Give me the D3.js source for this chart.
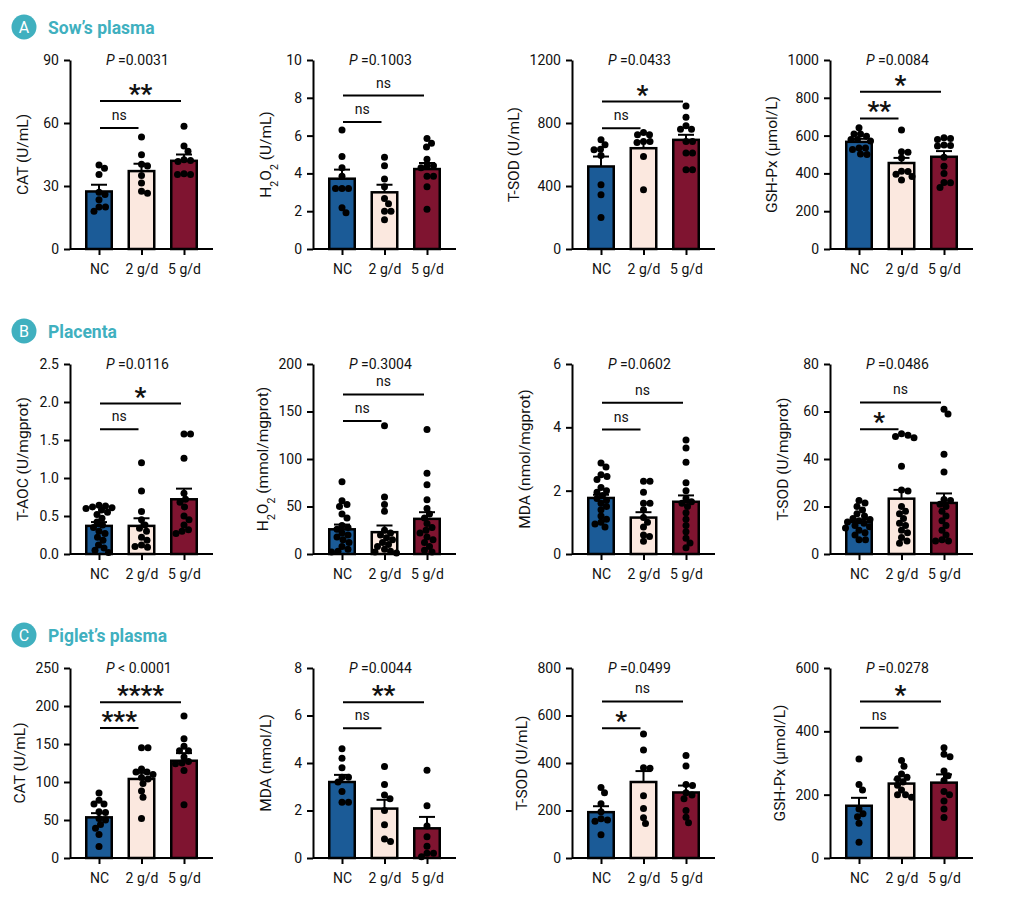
<!DOCTYPE html>
<html>
<head>
<meta charset="utf-8">
<script src="https://cdn.jsdelivr.net/npm/d3@7"></script>
<style>
  body { margin: 0; background: #fff; }
  text { font-family: Roboto, "Noto Sans", sans-serif; fill: #111; }
</style>
</head>
<body>
<svg id="fig" width="1013" height="904"></svg>
<script>
// groups and section headers
var groups = ["NC", "2 g/d", "5 g/d"];
var sections = [["A", "Sow’s plasma"], ["B", "Placenta"], ["C", "Piglet’s plasma"]];

// one entry per panel, row by row ("_" marks a one-char subscript)
var yLabels = ["CAT (U/mL)", "H_2O_2 (U/mL)", "T-SOD (U/mL)", "GSH-Px (µmol/L)",
               "T-AOC (U/mgprot)", "H_2O_2 (mmol/mgprot)", "MDA (nmol/mgprot)", "T-SOD (U/mgprot)",
               "CAT (U/mL)", "MDA (nmol/L)", "T-SOD (U/mL)", "GSH-Px (µmol/L)"];
var yTicks = [[0, 30, 60, 90], [0, 2, 4, 6, 8, 10], [0, 400, 800, 1200], [0, 200, 400, 600, 800, 1000],
              [0, 0.5, 1.0, 1.5, 2.0, 2.5], [0, 50, 100, 150, 200], [0, 2, 4, 6], [0, 20, 40, 60, 80],
              [0, 50, 100, 150, 200, 250], [0, 2, 4, 6, 8], [0, 200, 400, 600, 800], [0, 200, 400, 600]];
var pTexts = ["=0.0031", "=0.1003", "=0.0433", "=0.0084",
              "=0.0116", "=0.3004", "=0.0602", "=0.0486",
              " < 0.0001", "=0.0044", "=0.0499", "=0.0278"];

// bar heights (mean) and top of the error bar (mean + SEM)
var means = [[27.4, 37.1, 42.0], [3.72, 3.0, 4.23], [524, 640, 693], [567, 455, 488],
             [0.37, 0.37, 0.72], [26, 23, 37], [1.77, 1.15, 1.65], [13.5, 23.3, 21.5],
             [53.5, 104, 128], [3.2, 2.08, 1.25], [193, 320, 276], [165, 235, 238]];
var semTops = [[30.6, 40.6, 45.0], [4.2, 3.4, 4.55], [587, 683, 725], [583, 482, 518],
               [0.42, 0.47, 0.86], [31, 30, 44], [1.87, 1.32, 1.85], [14.5, 27, 25.5],
               [59, 112, 138], [3.5, 2.45, 1.73], [218, 366, 305], [190, 248, 264]];

// individual animals
var dots = [
  [[40, 38.5, 35.5, 27, 26, 23.5, 20, 20, 18],
   [53.3, 44.9, 40.3, 39.5, 35, 31.4, 27.5, 26.6],
   [58.4, 49, 46.6, 42.5, 42.2, 41.7, 35.8, 35.5, 35.5]],
  [[6.3, 4.9, 4.3, 3.85, 3.2, 3.2, 3.2, 2.18, 1.92],
   [4.85, 4.4, 3.7, 3.3, 2.67, 2.4, 2.0, 2.0, 1.55],
   [5.85, 5.6, 5.4, 4.75, 4.4, 4.4, 4.3, 3.85, 3.85, 3.3, 2.1]],
  [[693, 662, 630, 634, 594, 408, 345, 200],
   [725, 725, 740, 683, 683, 676, 588, 376],
   [908, 837, 782, 761, 761, 683, 683, 609, 609, 503, 503]],
  [[641, 609, 597, 609, 580, 571, 580, 535, 527, 535, 503, 500],
   [630, 515, 512, 482, 412, 410, 395, 383, 365],
   [588, 580, 584, 550, 548, 545, 485, 438, 400, 350, 352, 325]],
  [[0.64, 0.63, 0.62, 0.61, 0.60, 0.58, 0.55, 0.52, 0.47, 0.42, 0.38, 0.35, 0.30, 0.27, 0.22, 0.18, 0.12, 0.08, 0.05, 0.02],
   [1.2, 0.83, 0.56, 0.45, 0.38, 0.34, 0.3, 0.22, 0.18, 0.12, 0.1, 0.09],
   [1.58, 1.58, 1.26, 0.8, 0.72, 0.68, 0.62, 0.5, 0.45, 0.38, 0.32, 0.3, 0.27]],
  [[76, 56, 52, 50, 42, 38, 30, 28, 26, 22, 20, 18, 15, 12, 8, 5, 3, 2],
   [135, 60, 52, 45, 25, 22, 20, 17, 15, 12, 10, 8, 5, 3, 2, 1],
   [131, 85, 73, 57, 48, 42, 38, 32, 28, 25, 22, 18, 15, 12, 8, 4, 2]],
  [[2.87, 2.75, 2.5, 2.45, 2.35, 2.1, 2.0, 1.95, 1.85, 1.75, 1.7, 1.6, 1.5, 1.4, 1.2, 1.1, 1.0, 0.95, 0.85],
   [2.3, 2.3, 1.95, 1.6, 1.6, 1.4, 1.15, 1.0, 0.85, 0.6, 0.55, 0.4],
   [3.6, 3.35, 2.9, 2.25, 2.0, 1.75, 1.65, 1.6, 1.5, 1.3, 1.1, 0.9, 0.7, 0.5, 0.35, 0.2]],
  [[22.5, 21.5, 20, 18.5, 17, 16, 15, 14.5, 14, 13.5, 13, 12, 11.5, 11, 10, 9, 8, 6, 6],
   [50.6, 50, 49.5, 49, 37, 27, 26.5, 20, 18, 17, 15, 13, 12, 10, 9, 7, 5.5, 4.5],
   [61, 59, 42, 34.5, 23, 22.5, 21, 20, 18, 16, 14, 12, 10, 8, 6, 5.5, 5.5]],
  [[85.5, 76, 71, 71, 61, 60, 52, 50, 44, 39, 31, 15],
   [145, 145, 117, 113, 113, 110, 106, 104, 98, 88, 80, 52],
   [187, 157, 147, 141, 141, 133, 127, 125, 124, 115, 70]],
  [[4.6, 4.2, 3.8, 3.4, 3.4, 3.2, 2.8, 2.35, 2.35],
   [3.85, 3.1, 2.65, 2.5, 2.0, 1.4, 0.8, 0.7],
   [3.7, 2.2, 1.35, 0.9, 0.5, 0.2, 0.2, 0.05]],
  [[297, 275, 228, 195, 165, 160, 155, 98],
   [522, 455, 380, 378, 262, 208, 170, 145],
   [432, 387, 310, 305, 275, 265, 250, 200, 172, 148]],
  [[313, 232, 215, 155, 140, 130, 110, 50],
   [308, 290, 265, 255, 250, 240, 230, 215, 200, 200, 192],
   [348, 328, 320, 275, 260, 245, 210, 200, 180, 155, 128]]
];

// comparison lines: NC vs 2 g/d, NC vs 5 g/d (value where the line sits) and their labels
var bracketY = [[57.6, 70.5], [6.72, 8.12], [767, 936], [691, 832],
                [1.64, 1.98], [140, 168], [3.93, 4.78], [52.5, 63.8],
                [171, 205], [5.46, 6.56], [546, 659], [411, 494]];
var sigLabels = [["ns", "**"], ["ns", "ns"], ["ns", "*"], ["**", "*"],
                 ["ns", "*"], ["ns", "ns"], ["ns", "ns"], ["*", "ns"],
                 ["***", "****"], ["ns", "**"], ["*", "ns"], ["ns", "*"]];

var fills = ["#1b5b97", "#fbe8df", "#7f1430"];
var teal = "#40b0bf";

var colX = [70, 313, 572, 830];
var rowTop = [60, 364, 668];
var rowBot = [249, 554, 858];
var plotW = 143, barW = 25.5, dotR = 3.5, maxSpread = 16;

var svg = d3.select("#fig");
svg.append("rect").attr("width", 1013).attr("height", 904).attr("fill", "#fff");

// section headers
sections.forEach(function (s, r) {
  var cy = rowTop[r] - 33;
  svg.append("circle").attr("cx", 24).attr("cy", cy).attr("r", 12.5).attr("fill", teal);
  svg.append("text").attr("x", 24).attr("y", cy + 5.5).attr("text-anchor", "middle")
    .style("font-size", "16px").style("fill", "#fff").text(s[0]);
  svg.append("text").attr("x", 48).attr("y", cy + 6.5)
    .style("font-size", "17.5px").style("font-weight", "bold").style("fill", teal).text(s[1]);
});

// simple beeswarm: spread dots sideways, letting them overlap more when the row gets too wide
function swarm(vals, cx, y) {
  var placed = [];
  var ys = vals.map(function (v) { return y(v); }).sort(function (a, b) { return a - b; });
  ys.forEach(function (py) {
    var minD = 2 * dotR - 0.8, off = 0;
    while (minD > 0) {
      var found = false;
      for (var k = 0; k <= maxSpread * 4; k++) {
        off = k === 0 ? 0 : (k % 2 ? 1 : -1) * Math.ceil(k / 2) * 0.5;
        var ok = placed.every(function (q) {
          var dx = q[0] - (cx + off), dy = q[1] - py;
          return dx * dx + dy * dy >= minD * minD;
        });
        if (ok) { found = true; break; }
      }
      if (found) break;
      minD -= 1;
    }
    placed.push([cx + off, py]);
  });
  return placed;
}

function addLabel(sel, str) {
  var parts = str.split(/_(.)/);
  parts.forEach(function (t, j) {
    if (!t) return;
    if (j % 2) {
      sel.append("tspan").attr("baseline-shift", "sub").style("font-size", "10.5px").text(t);
    } else {
      sel.append("tspan").text(t);
    }
  });
}

yLabels.forEach(function (lab, i) {
  var r = Math.floor(i / 4), c = i % 4;
  var ax = colX[c];
  var g = svg.append("g");
  var y = d3.scaleLinear().domain([0, d3.max(yTicks[i])]).range([rowBot[r], rowTop[r]]);
  var x = d3.scalePoint().domain(groups).range([ax + 29, ax + 114]);
  var fmt = i === 4 ? d3.format(".1f") : d3.format("d");

  // bars
  g.selectAll("rect.bar").data(groups).enter().append("rect")
    .attr("x", function (d) { return x(d) - barW / 2; })
    .attr("y", function (d, j) { return y(means[i][j]); })
    .attr("width", barW)
    .attr("height", function (d, j) { return y(0) - y(means[i][j]); })
    .attr("fill", function (d, j) { return fills[j]; })
    .attr("stroke", "#000").attr("stroke-width", 2.5);

  // error bars (upper only)
  groups.forEach(function (d, j) {
    var cx = x(d);
    g.append("line").attr("x1", cx).attr("x2", cx)
      .attr("y1", y(means[i][j])).attr("y2", y(semTops[i][j]))
      .attr("stroke", "#000").attr("stroke-width", 2);
    g.append("line").attr("x1", cx - 8).attr("x2", cx + 8)
      .attr("y1", y(semTops[i][j])).attr("y2", y(semTops[i][j]))
      .attr("stroke", "#000").attr("stroke-width", 2);
  });

  // dots
  groups.forEach(function (d, j) {
    g.selectAll(null).data(swarm(dots[i][j], x(d), y)).enter().append("circle")
      .attr("cx", function (p) { return p[0]; })
      .attr("cy", function (p) { return p[1]; })
      .attr("r", dotR).attr("fill", "#000");
  });

  // y axis
  var yAx = g.append("g").attr("transform", "translate(" + ax + ",0)")
    .call(d3.axisLeft(y).tickValues(yTicks[i]).tickFormat(fmt).tickSize(6).tickSizeOuter(0).tickPadding(5));
  yAx.select(".domain").attr("stroke-width", 2);
  yAx.selectAll(".tick line").attr("stroke-width", 2);
  yAx.selectAll(".tick text").style("font-size", "14px").style("font-family", "Roboto, sans-serif").attr("fill", "#111");
  var tw = 0;
  yAx.selectAll(".tick text").each(function () { tw = Math.max(tw, this.getComputedTextLength()); });

  // x axis
  var xAx = g.append("g").attr("transform", "translate(0," + rowBot[r] + ")")
    .call(d3.axisBottom(x).tickSize(6).tickSizeOuter(0).tickPadding(9));
  xAx.select(".domain").attr("d", "M" + ax + ",0H" + (ax + plotW)).attr("stroke-width", 2);
  xAx.selectAll(".tick line").attr("stroke-width", 2);
  xAx.selectAll(".tick text").style("font-size", "14px").style("font-family", "Roboto, sans-serif").attr("fill", "#111");

  // y label
  var mid = (rowTop[r] + rowBot[r]) / 2;
  var off = Math.max(48, tw + 27);
  var yl = g.append("text")
    .attr("transform", "translate(" + (ax - off) + "," + mid + ") rotate(-90)")
    .attr("text-anchor", "middle").attr("dy", "0.36em")
    .style("font-size", "15.5px");
  addLabel(yl, lab);

  // P value
  var pt = g.append("text").attr("x", ax + 36).attr("y", rowTop[r] + 5).style("font-size", "14px");
  pt.append("tspan").style("font-style", "italic").text("P");
  pt.append("tspan").text(" " + pTexts[i]);

  // comparison lines
  [1, 2].forEach(function (k, n) {
    var x1 = x(groups[0]) + 1, x2 = x(groups[k]) - 3;
    var ly = y(bracketY[i][n]);
    g.append("line").attr("x1", x1).attr("x2", x2).attr("y1", ly).attr("y2", ly)
      .attr("stroke", "#000").attr("stroke-width", 2);
    var lab2 = sigLabels[i][n];
    var t = g.append("text").attr("x", (x1 + x2) / 2).attr("text-anchor", "middle").text(lab2);
    if (lab2 === "ns") {
      t.attr("y", ly - 8).style("font-size", "14px");
    } else {
      t.attr("y", ly + 2).style("font-size", "26px").style("font-weight", "bold");
    }
  });
});
</script>
</body>
</html>
